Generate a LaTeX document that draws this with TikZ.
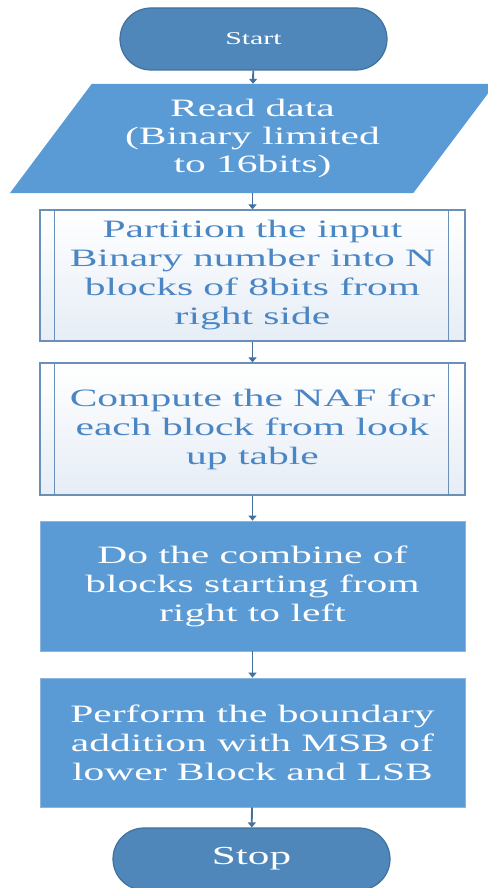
\documentclass[tikz,border=0pt]{standalone}
\usepackage{fontspec}
\setmainfont[FakeStretch=1.66]{Liberation Serif}
\usetikzlibrary{arrows.meta,shapes.misc,calc}
\definecolor{termfill}{HTML}{4F87BB}
\definecolor{termedge}{HTML}{41719C}
\definecolor{stepfill}{HTML}{5B9BD5}
\definecolor{stepedge}{HTML}{8DB4DE}
\definecolor{procedge}{HTML}{6A8FB8}
\definecolor{procbot}{HTML}{E6EDF6}
\definecolor{proctext}{HTML}{4A86C4}
\definecolor{arrowcol}{HTML}{41719C}
\begin{document}
\begin{tikzpicture}[x=1pt,y=-1pt,
  terminal/.style={rounded rectangle, fill=termfill, draw=termedge, line width=1.2pt,
    text=white, minimum height=62pt, inner sep=0pt},
  iobox/.style={rectangle, minimum width=403pt, minimum height=109pt, inner sep=0pt,
    text=white, align=center, font=\fontsize{25}{28}\selectfont},
  procbox/.style={rectangle, draw=procedge, line width=1.2pt, top color=white,
    bottom color=procbot, text=proctext, minimum width=425pt, inner sep=0pt,
    align=center, font=\fontsize{25}{29}\selectfont},
  stepbox/.style={rectangle, fill=stepfill, draw=stepedge, line width=0.8pt,
    text=white, minimum width=425pt, inner sep=0pt,
    align=center, font=\fontsize{25}{29}\selectfont},
  link/.style={draw=arrowcol, line width=1.8pt, -{Triangle[length=5pt,width=8pt]}}]
\useasboundingbox[fill=white] (0,0) rectangle (487,888);

% start / stop terminals
\node[terminal, minimum width=267pt, font=\fontsize{18}{21}\selectfont] (start) at (253.5,39) {Start};
\node[terminal, minimum width=277pt, font=\fontsize{26}{29}\selectfont] (stop) at (251.5,859) {Stop};

% input parallelogram
\node[iobox] (rd) at (252.5,138.5) {};
\fill[stepfill] ($(rd.south west)+(-41,0)$) -- ($(rd.south east)+(-41,0)$)
  -- ($(rd.north east)+(41,0)$) -- ($(rd.north west)+(41,0)$) -- cycle;
\node[iobox] at (rd) {Read data\\(Binary limited\\to 16bits)};

% predefined process boxes
\node[procbox, minimum height=131pt] (p1) at (252.5,275.5)
  {Partition the input\\Binary number into N\\blocks of 8bits from\\right side};
\node[procbox, minimum height=132pt] (p2) at (252.5,429)
  {Compute the NAF for\\each block from look\\up table};
\foreach \b in {p1,p2}{
  \draw[procedge, line width=1.2pt] ($(\b.north west)+(15,0)$) -- ($(\b.south west)+(15,0)$);
  \draw[procedge, line width=1.2pt] ($(\b.north east)+(-17,0)$) -- ($(\b.south east)+(-17,0)$);
}

% filled process boxes
\node[stepbox, minimum height=130pt] (s3) at (252.5,586)
  {Do the combine of\\blocks starting from\\right to left};
\node[stepbox, minimum height=129pt] (s4) at (252.5,742.5)
  {Perform the boundary\\addition with MSB of\\lower Block and LSB};

% flow
\draw[link] (start) -- (rd);
\draw[link] (rd) -- (p1);
\draw[link] (p1) -- (p2);
\draw[link] (p2) -- (s3);
\draw[link] (s3) -- (s4);
\draw[link] (s4) -- (stop);
\end{tikzpicture}
\end{document}
